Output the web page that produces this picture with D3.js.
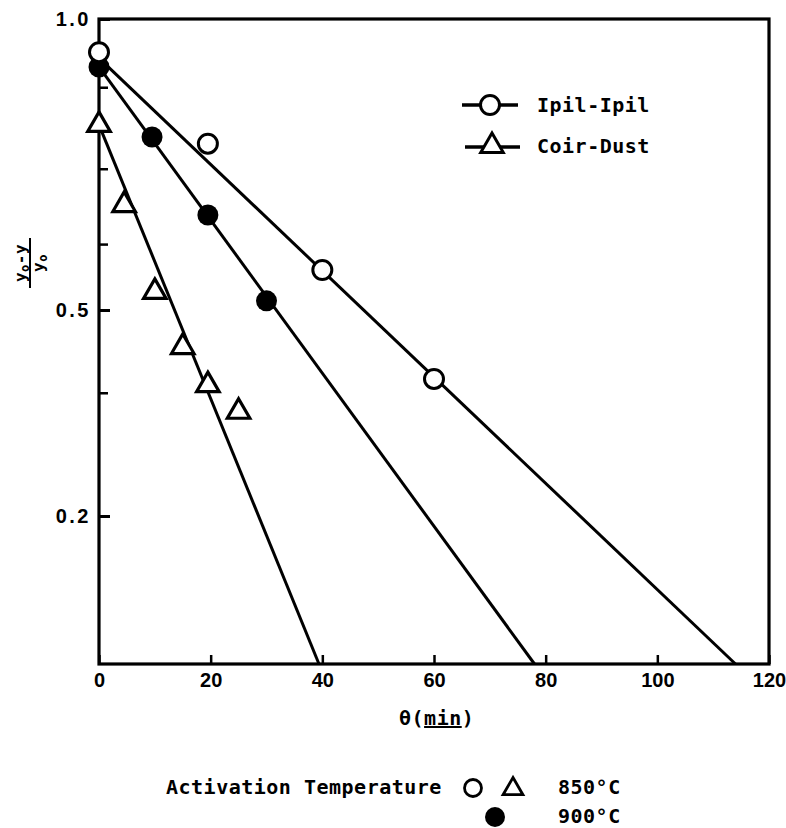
<!DOCTYPE html>
<html>
<head>
<meta charset="utf-8">
<script src="https://cdn.jsdelivr.net/npm/d3@7"></script>
<style>
  html, body { margin: 0; padding: 0; background: #fff; }
  svg { display: block; }
  .mono { font-family: "DejaVu Sans Mono", "Liberation Mono", monospace; font-weight: bold; letter-spacing: 0.5px; }
  .num { font-family: "Liberation Sans", Arial, sans-serif; font-weight: bold; }
</style>
</head>
<body>
<svg id="chart" width="786" height="828"></svg>
<script>
// Reaction time axis (minutes)
const thetaTicks = [0, 20, 40, 60, 80, 100, 120];
// Labelled and unlabelled ticks of the (y0 - y)/y0 axis
const ratioTicks = [1.0, 0.5, 0.2];
const ratioMinorTicks = [0.85, 0.70, 0.585, 0.346];

// Ipil-Ipil carbon, activated at 850 °C (open circles)
const ipil850Theta = [0, 19.5, 40, 60];
const ipil850Ratio = [0.924, 0.743, 0.550, 0.368];
// Ipil-Ipil carbon, activated at 900 °C (filled circles)
const ipil900Theta = [0, 9.5, 19.5, 30];
const ipil900Ratio = [0.892, 0.755, 0.627, 0.511];
// Coir-Dust carbon, activated at 850 °C (open triangles)
const coir850Theta = [0, 4.5, 10, 15, 19.5, 25];
const coir850Ratio = [0.777, 0.642, 0.522, 0.424, 0.358, 0.318];

// Fitted straight lines: end points (theta, ratio)
const ipil850FitTheta = [0, 114];
const ipil850FitRatio = [0.911, 0.1];
const ipil900FitTheta = [0, 78];
const ipil900FitRatio = [0.892, 0.1];
const coir850FitTheta = [0, 39.4];
const coir850FitRatio = [0.777, 0.1];

(function () {
const svg = d3.select("#chart");
const plotLeft = 99, plotRight = 769, plotTop = 19, plotBottom = 664;

const x = d3.scaleLinear().domain([0, 120]).range([plotLeft, plotRight]);
const y = d3.scaleLog().domain([1.0, 0.5, 0.2, 0.1]).range([plotTop, 310, 516, plotBottom]);

const zip = (a, b) => a.map((v, i) => [v, b[i]]);
const line = d3.line().x(d => x(d[0])).y(d => y(d[1]));

// Frame
svg.append("rect")
  .attr("x", plotLeft).attr("y", plotTop)
  .attr("width", plotRight - plotLeft).attr("height", plotBottom - plotTop)
  .attr("fill", "none").attr("stroke", "#000").attr("stroke-width", 3.2);

// X axis
const xAxis = svg.append("g")
  .attr("transform", `translate(0,${plotBottom})`)
  .call(d3.axisBottom(x).tickValues(thetaTicks).tickSizeInner(-9).tickSizeOuter(0).tickPadding(9).tickFormat(d3.format("d")));
xAxis.select(".domain").remove();
xAxis.selectAll("line").attr("stroke", "#000").attr("stroke-width", 2.5);
xAxis.selectAll("text").attr("class", "num").attr("font-size", 20).attr("fill", "#000");

// Y axis, labelled ticks
const yAxis = svg.append("g")
  .attr("transform", `translate(${plotLeft},0)`)
  .call(d3.axisLeft(y).tickValues(ratioTicks).tickSizeInner(-11).tickSizeOuter(0).tickPadding(8).tickFormat(d3.format(".1f")));
yAxis.select(".domain").remove();
yAxis.selectAll("line").attr("stroke", "#000").attr("stroke-width", 3);
yAxis.selectAll("text").attr("class", "num").attr("font-size", 20).attr("fill", "#000")
  .attr("letter-spacing", 2.5);

// Y axis, unlabelled ticks
const yMinor = svg.append("g")
  .attr("transform", `translate(${plotLeft},0)`)
  .call(d3.axisLeft(y).tickValues(ratioMinorTicks).tickSizeInner(-9).tickSizeOuter(0).tickFormat(""));
yMinor.select(".domain").remove();
yMinor.selectAll("line").attr("stroke", "#000").attr("stroke-width", 2.5);

// Fitted lines
[[ipil850FitTheta, ipil850FitRatio], [ipil900FitTheta, ipil900FitRatio], [coir850FitTheta, coir850FitRatio]]
  .forEach(([t, r]) => {
    svg.append("path")
      .attr("d", line(zip(t, r)))
      .attr("fill", "none").attr("stroke", "#000").attr("stroke-width", 3);
  });

// Markers
const tri = d3.symbol().type(d3.symbolTriangle).size(220);

svg.append("g").selectAll("path")
  .data(zip(coir850Theta, coir850Ratio))
  .join("path")
  .attr("d", tri)
  .attr("transform", d => `translate(${x(d[0])},${y(d[1])})`)
  .attr("fill", "#fff").attr("stroke", "#000").attr("stroke-width", 3.2);

svg.append("g").selectAll("circle")
  .data(zip(ipil900Theta, ipil900Ratio))
  .join("circle")
  .attr("cx", d => x(d[0])).attr("cy", d => y(d[1])).attr("r", 10.5)
  .attr("fill", "#000");

svg.append("g").selectAll("circle")
  .data(zip(ipil850Theta, ipil850Ratio))
  .join("circle")
  .attr("cx", d => x(d[0])).attr("cy", d => y(d[1])).attr("r", 9.5)
  .attr("fill", "#fff").attr("stroke", "#000").attr("stroke-width", 3);

// Axis titles
const xt = svg.append("text").attr("class", "mono").attr("font-size", 20)
  .attr("x", 399).attr("y", 725);
xt.append("tspan").text("θ(");
xt.append("tspan").attr("text-decoration", "underline").text("min");
xt.append("tspan").text(")");

const yt = svg.append("g").attr("transform", "translate(30,263) rotate(-90)");
const num = yt.append("text").attr("class", "mono").attr("font-size", 16)
  .attr("text-anchor", "middle").attr("x", 0).attr("y", -4);
num.append("tspan").text("y");
num.append("tspan").attr("font-size", 12).attr("dy", 3).text("o");
num.append("tspan").attr("dy", -3).text("-y");
yt.append("line").attr("x1", -25).attr("x2", 25).attr("y1", 0).attr("y2", 0)
  .attr("stroke", "#000").attr("stroke-width", 2);
const den = yt.append("text").attr("class", "mono").attr("font-size", 16)
  .attr("text-anchor", "middle").attr("x", 0).attr("y", 14);
den.append("tspan").text("y");
den.append("tspan").attr("font-size", 12).attr("dy", 3).text("o");

// Series key
const key = svg.append("g");
key.append("line").attr("x1", 462).attr("x2", 518).attr("y1", 105).attr("y2", 105)
  .attr("stroke", "#000").attr("stroke-width", 3.5);
key.append("circle").attr("cx", 490).attr("cy", 105).attr("r", 9.5)
  .attr("fill", "#fff").attr("stroke", "#000").attr("stroke-width", 3);
key.append("text").attr("class", "mono").attr("font-size", 20)
  .attr("x", 537).attr("y", 112).text("Ipil-Ipil");
key.append("line").attr("x1", 465).attr("x2", 520).attr("y1", 147).attr("y2", 147)
  .attr("stroke", "#000").attr("stroke-width", 3.5);
key.append("path").attr("d", tri).attr("transform", "translate(492,146)")
  .attr("fill", "#fff").attr("stroke", "#000").attr("stroke-width", 3);
key.append("text").attr("class", "mono").attr("font-size", 20)
  .attr("x", 537).attr("y", 153).text("Coir-Dust");

// Activation temperature key
const temp = svg.append("g");
temp.append("text").attr("class", "mono").attr("font-size", 20)
  .attr("x", 166).attr("y", 794).text("Activation Temperature");
temp.append("circle").attr("cx", 473).attr("cy", 788).attr("r", 8.5)
  .attr("fill", "#fff").attr("stroke", "#000").attr("stroke-width", 2.8);
temp.append("path").attr("d", d3.symbol().type(d3.symbolTriangle).size(170))
  .attr("transform", "translate(513,789)")
  .attr("fill", "#fff").attr("stroke", "#000").attr("stroke-width", 2.8);
temp.append("circle").attr("cx", 495).attr("cy", 817).attr("r", 10)
  .attr("fill", "#000");
temp.append("text").attr("class", "mono").attr("font-size", 20)
  .attr("x", 558).attr("y", 794).text("850°C");
temp.append("text").attr("class", "mono").attr("font-size", 20)
  .attr("x", 558).attr("y", 823).text("900°C");
})();
</script>
</body>
</html>
